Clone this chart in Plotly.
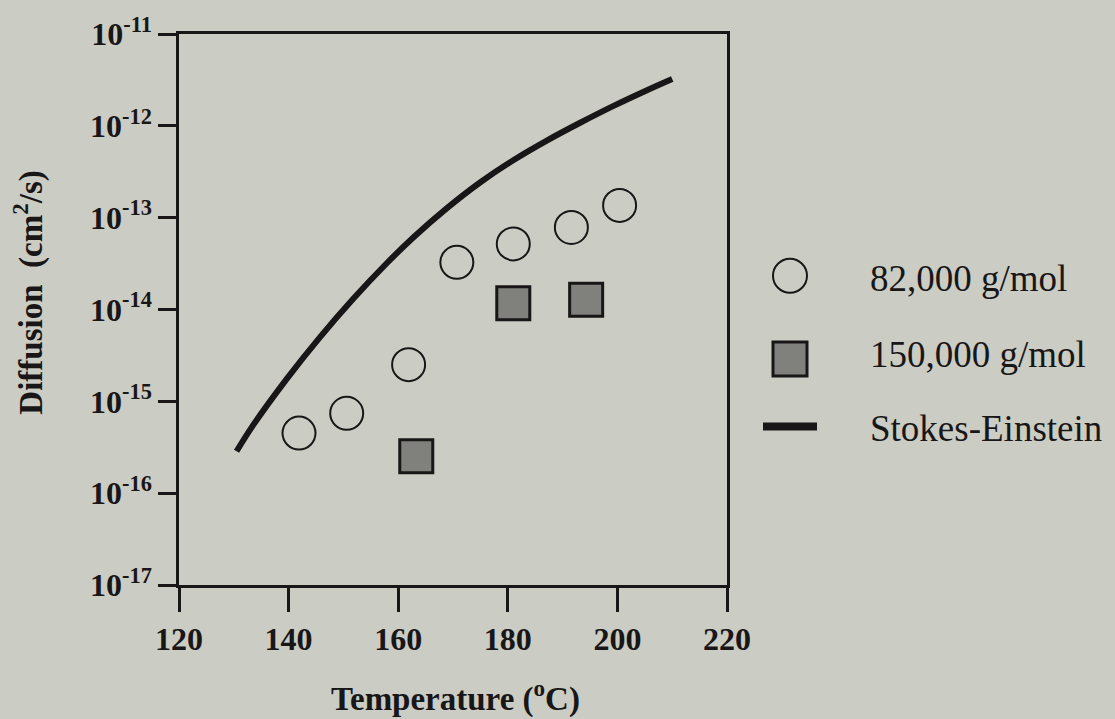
import plotly.graph_objects as go

# ---- data ----
temp_82k = [141.9, 150.6, 161.9, 170.7, 181.0, 191.6, 200.4]
diff_82k = [4.51e-16, 7.41e-16, 2.51e-15, 3.26e-14, 5.18e-14, 7.83e-14, 1.36e-13]

temp_150k = [163.3, 181.0, 194.3]
diff_150k = [2.53e-16, 1.17e-14, 1.28e-14]

temp_se = [130.5, 133.5, 139.7, 145.7, 151.8, 158.0, 162.7, 168.9, 175.0,
           181.0, 187.2, 193.2, 199.3, 205.5, 210.0]
diff_se = [2.86e-16, 5.48e-16, 1.77e-15, 4.98e-15, 1.31e-14, 3.23e-14, 6.05e-14,
           1.27e-13, 2.43e-13, 4.22e-13, 6.95e-13, 1.08e-12, 1.65e-12, 2.46e-12, 3.24e-12]

series_names = ["82,000 g/mol", "150,000 g/mol", "Stokes-Einstein"]

x_ticks = [120, 140, 160, 180, 200, 220]
y_tick_vals = [1e-17, 1e-16, 1e-15, 1e-14, 1e-13, 1e-12, 1e-11]
y_tick_text = ["10<sup>-17</sup>", "10<sup>-16</sup>", "10<sup>-15</sup>", "10<sup>-14</sup>",
               "10<sup>-13</sup>", "10<sup>-12</sup>", "10<sup>-11</sup>"]

x_title = "Temperature (<sup>o</sup>C)"
y_title = "Diffusion  (cm<sup>2</sup>/s)"

# ---- style ----
BG = "rgb(203,204,196)"
INK = "rgb(24,22,22)"
SQ_FILL = "rgb(128,129,124)"
SERIF = "Liberation Serif, Times New Roman, serif"

W, H = 1115, 719
ML, MR, MT, MB = 179, 388, 29, 134
PW, PH = W - ML - MR, H - MT - MB


def px(xp):
    return (xp - ML) / PW


def py(yp):
    return (H - MB - yp) / PH


fig = go.Figure()

fig.add_trace(go.Scatter(
    x=temp_se, y=diff_se, mode="lines", name=series_names[2],
    line=dict(color=INK, width=6, shape="spline", smoothing=1.0),
    showlegend=False, cliponaxis=False))

fig.add_trace(go.Scatter(
    x=temp_82k, y=diff_82k, mode="markers", name=series_names[0],
    marker=dict(symbol="circle", size=33, color=BG, line=dict(color=INK, width=2)),
    showlegend=False))

fig.add_trace(go.Scatter(
    x=temp_150k, y=diff_150k, mode="markers", name=series_names[1],
    marker=dict(symbol="square", size=33, color=SQ_FILL, line=dict(color=INK, width=3)),
    showlegend=False))

axis_common = dict(
    showline=True, linecolor=INK, linewidth=2.5, mirror=True,
    ticks="outside", tickcolor=INK, tickwidth=2.5,
    showgrid=False, zeroline=False,
    tickfont=dict(family=SERIF, size=32, color=INK, weight="bold"),
)

fig.update_xaxes(range=[120, 220], tickvals=x_ticks, ticklen=24, **axis_common)
fig.update_yaxes(type="log", range=[-17, -11], tickvals=y_tick_vals, ticktext=y_tick_text,
                 ticklen=18, **axis_common)

# ---- hand-drawn legend (symbols as shapes, labels as text) ----
shapes = [
    dict(type="circle", xref="paper", yref="paper", xsizemode="pixel", ysizemode="pixel",
         xanchor=px(790), yanchor=py(273), x0=-17, x1=17, y0=-17, y1=17,
         line=dict(color=INK, width=2), fillcolor=BG),
    dict(type="rect", xref="paper", yref="paper", xsizemode="pixel", ysizemode="pixel",
         xanchor=px(790), yanchor=py(357), x0=-17, x1=17, y0=-17, y1=17,
         line=dict(color=INK, width=3), fillcolor=SQ_FILL),
    dict(type="line", xref="paper", yref="paper",
         x0=px(763), x1=px(817), y0=py(425), y1=py(425),
         line=dict(color=INK, width=8)),
]

annotations = []
for name, yy in zip(series_names, [276, 352, 427]):
    annotations.append(dict(
        text=name, xref="paper", yref="paper", x=px(868), y=py(yy),
        xanchor="left", yanchor="middle", showarrow=False,
        font=dict(family=SERIF, size=37, color=INK)))

annotations.append(dict(
    text=x_title, xref="paper", yref="paper", x=px(455), y=py(698),
    xanchor="center", yanchor="middle", showarrow=False,
    font=dict(family=SERIF, size=33, color=INK, weight="bold")))

annotations.append(dict(
    text=y_title, xref="paper", yref="paper", x=px(29), y=py(290),
    xanchor="center", yanchor="middle", showarrow=False, textangle=-90,
    font=dict(family=SERIF, size=33, color=INK, weight="bold")))

fig.update_layout(
    width=W, height=H,
    margin=dict(l=ML, r=MR, t=MT, b=MB, pad=0),
    paper_bgcolor=BG, plot_bgcolor=BG,
    shapes=shapes, annotations=annotations,
    showlegend=False,
)

fig.write_html("out.html")
